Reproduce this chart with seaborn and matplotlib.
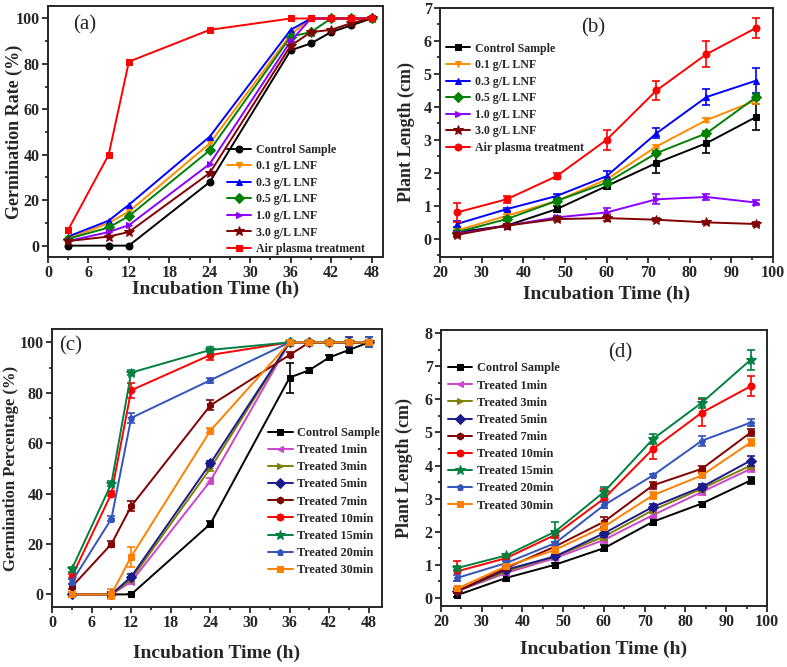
import matplotlib
matplotlib.use("Agg")
import matplotlib.pyplot as plt
import seaborn as sns
from matplotlib.ticker import MultipleLocator, AutoMinorLocator

# ---- panel (a): germination rate vs LNF dose ----
t_germ = [3, 9, 12, 24, 36, 39, 42, 45, 48]
germ_a = {
    "Control Sample": [0, 0, 0, 28, 86, 89, 94, 97, 100],
    "0.1 g/L LNF": [3, 10, 15, 45, 93, 100, 100, 100, 100],
    "0.3 g/L LNF": [4, 11, 18, 48, 95, 100, 100, 100, 100],
    "0.5 g/L LNF": [3, 8, 13, 42, 92, 94, 100, 100, 100],
    "1.0 g/L LNF": [2, 6, 9, 36, 90, 100, 100, 100, 100],
    "3.0 g/L LNF": [2, 4, 6, 32, 88, 94, 95, 98, 100],
    "Air plasma treatment": [7, 40, 81, 95, 100, 100, 100, 100, 100],
}

# ---- panel (b): plant length vs LNF dose ----
t_len = [24, 36, 48, 60, 72, 84, 96]
len_b = {
    "Control Sample": [0.2, 0.4, 0.9, 1.6, 2.3, 2.9, 3.7],
    "0.1 g/L LNF": [0.25, 0.7, 1.15, 1.8, 2.8, 3.6, 4.2],
    "0.3 g/L LNF": [0.45, 0.9, 1.3, 1.9, 3.2, 4.3, 4.8],
    "0.5 g/L LNF": [0.2, 0.6, 1.15, 1.7, 2.6, 3.2, 4.3],
    "1.0 g/L LNF": [0.15, 0.4, 0.65, 0.8, 1.2, 1.27, 1.1],
    "3.0 g/L LNF": [0.12, 0.4, 0.6, 0.63, 0.58, 0.5, 0.45],
    "Air plasma treatment": [0.8, 1.2, 1.9, 3.0, 4.5, 5.6, 6.4],
}
err_b = {
    "Control Sample": [0.05, 0.05, 0.1, 0.08, 0.3, 0.3, 0.4],
    "0.1 g/L LNF": [0.05, 0.05, 0.05, 0.05, 0.05, 0.05, 0.1],
    "0.3 g/L LNF": [0.1, 0.05, 0.05, 0.15, 0.15, 0.25, 0.38],
    "0.5 g/L LNF": [0.05, 0.05, 0.05, 0.05, 0.05, 0.08, 0.1],
    "1.0 g/L LNF": [0.05, 0.05, 0.05, 0.15, 0.15, 0.08, 0.08],
    "3.0 g/L LNF": [0.05, 0.05, 0.05, 0.08, 0.05, 0.05, 0.05],
    "Air plasma treatment": [0.3, 0.1, 0.1, 0.3, 0.3, 0.4, 0.3],
}

# ---- panel (c): germination percentage vs treatment time ----
germ_c = {
    "Control Sample": [0, 0, 0, 28, 86, 89, 94, 97, 100],
    "Treated 1min": [0, 0, 5, 45, 100, 100, 100, 100, 100],
    "Treated 3min": [0, 0, 6, 50, 100, 100, 100, 100, 100],
    "Treated 5min": [0, 0, 7, 52, 100, 100, 100, 100, 100],
    "Treated 7min": [3, 20, 35, 75, 95, 100, 100, 100, 100],
    "Treated 10min": [7, 40, 81, 95, 100, 100, 100, 100, 100],
    "Treated 15min": [10, 44, 88, 97, 100, 100, 100, 100, 100],
    "Treated 20min": [5, 30, 70, 85, 100, 100, 100, 100, 100],
    "Treated 30min": [0, 0, 15, 65, 100, 100, 100, 100, 100],
}
err_c = {
    "Control Sample": [0, 0, 0, 1, 6, 1, 1, 1, 1],
    "Treated 1min": [1, 1, 1, 1, 1, 1, 1, 1, 1],
    "Treated 3min": [1, 1, 1, 1, 1, 1, 1, 1, 1],
    "Treated 5min": [1, 1, 1, 1, 1, 1, 1, 2, 1],
    "Treated 7min": [1, 1, 2, 2, 1, 1, 1, 1, 1],
    "Treated 10min": [1, 1, 3, 2, 1, 1, 1, 1, 1],
    "Treated 15min": [1, 1, 1, 1, 1, 1, 1, 1, 2],
    "Treated 20min": [1, 1, 2, 1, 1, 1, 1, 1, 2],
    "Treated 30min": [1, 2, 4, 1, 1, 1, 1, 1, 1],
}

# ---- panel (d): plant length vs treatment time ----
len_d = {
    "Control Sample": [0.08, 0.6, 1.0, 1.5, 2.3, 2.85, 3.55],
    "Treated 1min": [0.2, 0.75, 1.2, 1.75, 2.5, 3.2, 3.9],
    "Treated 3min": [0.2, 0.8, 1.25, 1.85, 2.65, 3.3, 4.0],
    "Treated 5min": [0.2, 0.85, 1.25, 1.95, 2.75, 3.35, 4.15],
    "Treated 7min": [0.2, 0.9, 1.55, 2.3, 3.4, 3.9, 5.0],
    "Treated 10min": [0.8, 1.2, 1.9, 3.0, 4.5, 5.6, 6.4],
    "Treated 15min": [0.9, 1.28, 2.0, 3.2, 4.8, 5.9, 7.2],
    "Treated 20min": [0.6, 1.05, 1.65, 2.8, 3.7, 4.75, 5.3],
    "Treated 30min": [0.28, 0.95, 1.45, 2.15, 3.1, 3.7, 4.7],
}
err_d = {
    "Control Sample": [0.05, 0.1, 0.05, 0.1, 0.1, 0.05, 0.1],
    "Treated 1min": [0.05, 0.05, 0.05, 0.1, 0.1, 0.1, 0.1],
    "Treated 3min": [0.05, 0.05, 0.05, 0.1, 0.1, 0.1, 0.1],
    "Treated 5min": [0.05, 0.05, 0.05, 0.1, 0.1, 0.1, 0.15],
    "Treated 7min": [0.05, 0.05, 0.05, 0.15, 0.1, 0.1, 0.1],
    "Treated 10min": [0.3, 0.1, 0.1, 0.3, 0.3, 0.4, 0.3],
    "Treated 15min": [0.05, 0.05, 0.3, 0.15, 0.15, 0.15, 0.3],
    "Treated 20min": [0.1, 0.05, 0.05, 0.1, 0.05, 0.15, 0.1],
    "Treated 30min": [0.05, 0.05, 0.1, 0.1, 0.1, 0.05, 0.1],
}

lnf_style = {
    "Control Sample": ("black", "o"),
    "0.1 g/L LNF": ("#ff8c00", "v"),
    "0.3 g/L LNF": ("#0000ff", "^"),
    "0.5 g/L LNF": ("#008000", "D"),
    "1.0 g/L LNF": ("#8a00ff", ">"),
    "3.0 g/L LNF": ("#800000", "*"),
    "Air plasma treatment": ("#ff0000", "s"),
}
lnf_style_b = dict(lnf_style)
lnf_style_b["Control Sample"] = ("black", "s")
lnf_style_b["Air plasma treatment"] = ("#ff0000", "o")

time_style = {
    "Control Sample": ("black", "s"),
    "Treated 1min": ("#cc44cc", "<"),
    "Treated 3min": ("#808000", ">"),
    "Treated 5min": ("#1a1a8c", "D"),
    "Treated 7min": ("#800000", "h"),
    "Treated 10min": ("#ff0000", "o"),
    "Treated 15min": ("#008040", "*"),
    "Treated 20min": ("#3355bb", "p"),
    "Treated 30min": ("#ff8000", "s"),
}

sns.set_style("ticks")
plt.rcParams["font.family"] = ["Liberation Serif", "DejaVu Serif"]
plt.rcParams["font.weight"] = "bold"
plt.rcParams["axes.linewidth"] = 1.4

fig = plt.figure(figsize=(7.87, 6.67), dpi=100)
W, H = 787, 667


def add_ax(l, t, r, b):
    return fig.add_axes([l / W, 1 - b / H, (r - l) / W, (b - t) / H])


def draw(ax, x, series, styles, errs=None, ms=5):
    for name, vals in series.items():
        color, mk = styles[name]
        size = ms + 2 if mk == "*" else ms
        sns.lineplot(x=x, y=vals, ax=ax, color=color, marker=mk,
                     markersize=size, markeredgecolor=color, linewidth=1.4,
                     label=name)
        if errs is not None:
            ax.errorbar(x, vals, yerr=errs[name], fmt="none", ecolor=color,
                        elinewidth=1.2, capsize=3, capthick=1.2)


def style_ax(ax, xlim, ylim, xmaj, ymaj, ylabel, ylsize, ylx, xly,
             tag, tagpos, legpos, legsize, legsp):
    ax.set_xlim(*xlim)
    ax.set_ylim(*ylim)
    ax.xaxis.set_major_locator(MultipleLocator(xmaj))
    ax.yaxis.set_major_locator(MultipleLocator(ymaj))
    ax.xaxis.set_minor_locator(AutoMinorLocator(2))
    ax.yaxis.set_minor_locator(AutoMinorLocator(2))
    ax.tick_params(which="both", direction="out", width=1.3)
    ax.tick_params(which="major", length=4, labelsize=11.5, pad=2)
    ax.tick_params(which="minor", length=2.5)
    for s in ax.spines.values():
        s.set_visible(True)
        s.set_linewidth(1.4)
    for lab in ax.get_xticklabels() + ax.get_yticklabels():
        lab.set_fontweight("bold")
    ax.set_xlabel("Incubation Time (h)", fontsize=14, fontweight="bold")
    ax.set_ylabel(ylabel, fontsize=ylsize, fontweight="bold")
    ax.yaxis.set_label_coords(ylx, 0.5)
    ax.xaxis.set_label_coords(0.5, xly)
    ax.text(tagpos[0], tagpos[1], tag, transform=ax.transAxes, fontsize=15,
            fontweight="normal", ha="center", va="center")
    ax.legend(loc="upper left", bbox_to_anchor=legpos, frameon=False,
              handlelength=2.0, handletextpad=0.4,
              labelspacing=legsp, borderaxespad=0,
              prop={"size": legsize, "weight": "bold"})


ax_a = add_ax(48, 6, 383, 257)
draw(ax_a, t_germ, germ_a, lnf_style, ms=5)
style_ax(ax_a, (0, 49.7), (-5, 105.5), 6, 20, "Germination Rate (%)", 13,
         -0.074, -0.096, "(a)", (0.11, 0.924), (0.52, 0.47), 8.6, 0.38)

ax_b = add_ax(440, 8, 773, 257)
draw(ax_b, t_len, len_b, lnf_style_b, err_b, ms=5)
style_ax(ax_b, (20, 100), (-0.55, 7), 10, 1, "Plant Length (cm)", 13,
         -0.075, -0.114, "(b)", (0.46, 0.92), (0.005, 0.88), 8.6, 0.38)

ax_c = add_ax(52, 329, 382, 607)
draw(ax_c, t_germ, germ_c, time_style, err_c, ms=5)
style_ax(ax_c, (0, 50), (-5, 105.3), 6, 20, "Germination Percentage (%)",
         12, -0.1, -0.135, "(c)", (0.055, 0.94), (0.64, 0.665), 8.8, 0.42)

ax_d = add_ax(441, 330, 767, 606)
draw(ax_d, t_len, len_d, time_style, err_d, ms=5)
style_ax(ax_d, (20, 100), (-0.25, 8.1), 10, 1, "Plant Length (cm)", 13,
         -0.086, -0.127, "(d)", (0.55, 0.917), (0.005, 0.9), 8.8, 0.42)

fig.savefig("out.png", dpi=100)
